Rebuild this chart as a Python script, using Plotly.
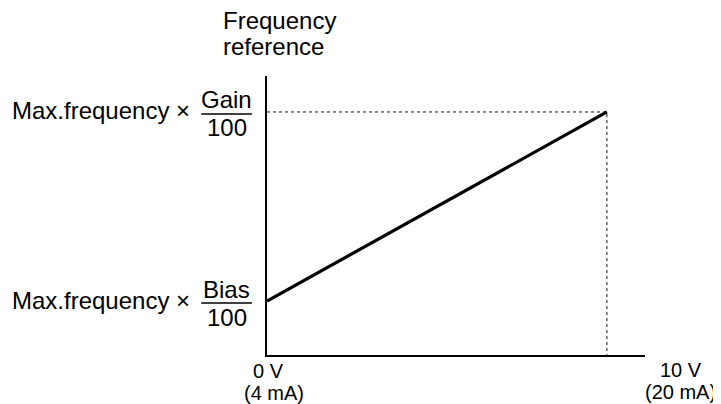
import plotly.graph_objects as go

# Data
input_v = [0, 10]            # analog input (V)
freq_ref = [22.2, 100]       # frequency reference (% of max) : bias, gain
x_range = [0, 11.12]
y_range = [0, 114.8]
tick_labels_v = ["0 V", "10 V"]
tick_labels_ma = ["(4 mA)", "(20 mA)"]

FONT = "Liberation Sans, Arial, sans-serif"
BIG = 24
SMALL = 20

fig = go.Figure()

# dotted guides
fig.add_trace(go.Scatter(x=[input_v[0], input_v[1], input_v[1]],
                         y=[freq_ref[1], freq_ref[1], 0],
                         mode="lines", line=dict(color="#111", width=1, dash="dot"),
                         hoverinfo="skip", showlegend=False, cliponaxis=False))
# main characteristic line
fig.add_trace(go.Scatter(x=input_v, y=freq_ref, mode="lines",
                         line=dict(color="black", width=3.2),
                         showlegend=False, cliponaxis=False))

ann = []
def a(text, x, y, xref, yref, xanchor="center", xshift=0, yshift=0, size=BIG):
    ann.append(dict(text=text, x=x, y=y, xref=xref, yref=yref, xanchor=xanchor,
                    yanchor="middle", xshift=xshift, yshift=yshift, showarrow=False,
                    font=dict(family=FONT, size=size, color="black")))

# axis title
a("Frequency", 0, 1, "paper", "paper", "left", -46, 56)
a("reference", 0, 1, "paper", "paper", "left", -46, 30)

# y labels
for val, word in [(freq_ref[1], "Gain"), (freq_ref[0], "Bias")]:
    a("Max.frequency \u00d7", 0, val, "paper", "y", "right", -75, 1)
    a(word, 0, val, "paper", "y", "center", -41, 12)
    a("100", 0, val, "paper", "y", "center", -40, -16)

# x tick labels
a(tick_labels_v[0], 0, 0, "paper", "paper", "left", -16, -16, SMALL)
a(tick_labels_ma[0], 0, 0, "paper", "paper", "left", -25, -38, SMALL)
a(tick_labels_v[1], 1.095, 0, "paper", "paper", "center", 0, -15, SMALL)
a(tick_labels_ma[1], 1.095, 0, "paper", "paper", "center", 0, -37, SMALL)

shapes = []
for val in freq_ref:
    shapes.append(dict(type="line", xref="paper", yref="y", ysizemode="pixel",
                       yanchor=val, x0=-0.174, x1=-0.04, y0=-2, y1=-2,
                       line=dict(color="black", width=1.5)))

fig.update_layout(
    width=721, height=404,
    margin=dict(l=259, r=84, t=68, b=57),
    paper_bgcolor="white", plot_bgcolor="white",
    annotations=ann, shapes=shapes,
    xaxis=dict(range=x_range, showline=True, linecolor="black", linewidth=2,
               showgrid=False, zeroline=False, showticklabels=False, ticks=""),
    yaxis=dict(range=y_range, showline=True, linecolor="black", linewidth=2,
               showgrid=False, zeroline=False, showticklabels=False, ticks=""),
    showlegend=False,
)

fig.write_html("out.html")
